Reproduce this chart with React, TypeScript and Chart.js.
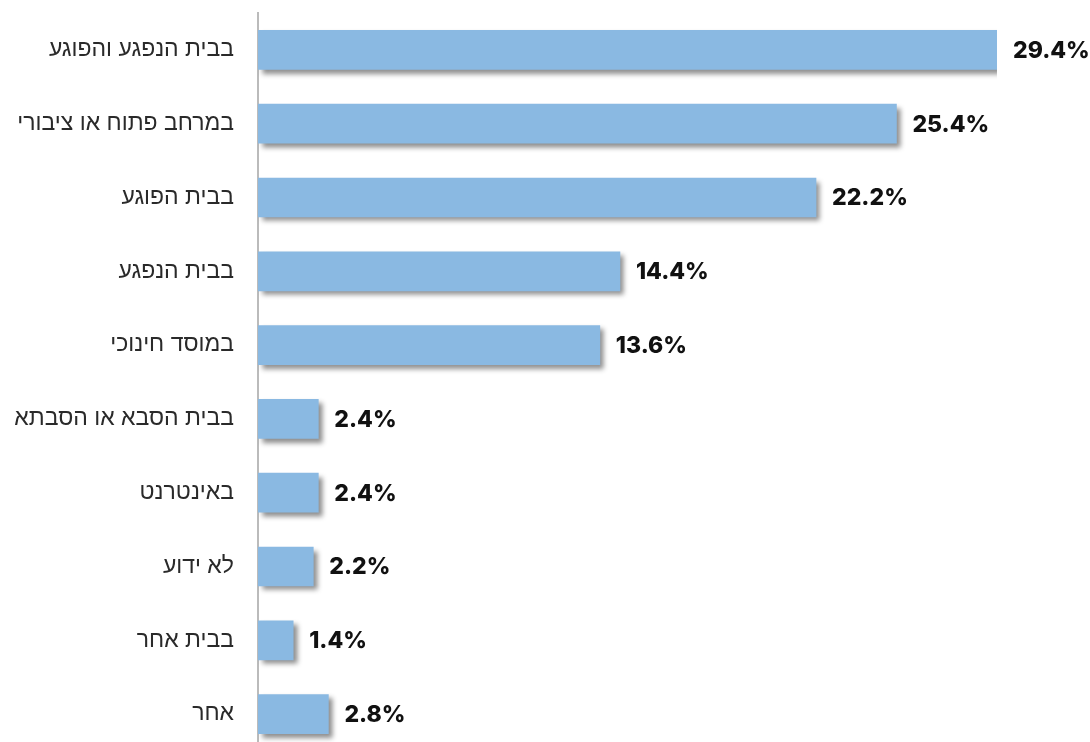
import React, { useEffect, useRef } from "react";
import { Chart, registerables } from "chart.js";

Chart.register(...registerables);

const categories = [
  "בבית הנפגע והפוגע",
  "במרחב פתוח או ציבורי",
  "בבית הפוגע",
  "בבית הנפגע",
  "במוסד חינוכי",
  "בבית הסבא או הסבתא",
  "באינטרנט",
  "לא ידוע",
  "בבית אחר",
  "אחר",
];

const values = [29.4, 25.4, 22.2, 14.4, 13.6, 2.4, 2.4, 2.2, 1.4, 2.8];

const BAR_COLOR = "#8AB9E2";

const shadowPlugin = {
  id: "barShadow",
  beforeDatasetDraw(chart: any) {
    const ctx = chart.ctx;
    ctx.save();
    ctx.shadowColor = "rgba(0,0,0,0.45)";
    ctx.shadowOffsetX = 4;
    ctx.shadowOffsetY = 4;
    ctx.shadowBlur = 5;
  },
  afterDatasetDraw(chart: any) {
    chart.ctx.restore();
  },
};

const valueLabelPlugin = {
  id: "valueLabels",
  afterDatasetsDraw(chart: any) {
    const ctx = chart.ctx;
    const meta = chart.getDatasetMeta(0);
    const data = chart.data.datasets[0].data as number[];
    ctx.save();
    ctx.font = "800 23px Inter, 'Open Sans', sans-serif";
    ctx.fillStyle = "#111111";
    ctx.textAlign = "left";
    ctx.textBaseline = "middle";
    meta.data.forEach((bar: any, i: number) => {
      ctx.fillText(data[i].toFixed(1) + "%", bar.x + 16, bar.y + 1);
    });
    ctx.restore();
  },
};

export default function App() {
  const canvasRef = useRef<HTMLCanvasElement | null>(null);

  useEffect(() => {
    if (!canvasRef.current) return;
    const chart = new Chart(canvasRef.current, {
      type: "bar",
      data: {
        labels: categories,
        datasets: [
          {
            data: values,
            backgroundColor: BAR_COLOR,
            borderWidth: 0,
            barThickness: 39,
          },
        ],
      },
      options: {
        indexAxis: "y",
        animation: false,
        responsive: false,
        maintainAspectRatio: false,
        layout: { padding: { top: 13, right: 93, bottom: 0, left: 0 } },
        plugins: {
          legend: { display: false },
          tooltip: { enabled: false },
        },
        scales: {
          x: {
            display: false,
            min: 0,
            max: 29.4,
          },
          y: {
            afterFit(scale: any) {
              scale.width = 258;
              scale.paddingTop = 0;
              scale.paddingBottom = 0;
            },
            grid: { display: false, drawTicks: false },
            border: { display: true, color: "#BBBBBB", width: 2 },
            ticks: {
              padding: 24,
              color: "#2a2a2a",
              font: { family: "'Liberation Sans', Arial, sans-serif", size: 23 },
            },
          },
        },
      },
      plugins: [shadowPlugin, valueLabelPlugin],
    });
    return () => chart.destroy();
  }, []);

  return (
    <div
      style={{
        position: "fixed",
        left: 0,
        top: 0,
        width: 1090,
        height: 742,
        overflow: "hidden",
        background: "#ffffff",
      }}
    >
      <canvas ref={canvasRef} width={1090} height={751} style={{ display: "block" }} />
    </div>
  );
}
